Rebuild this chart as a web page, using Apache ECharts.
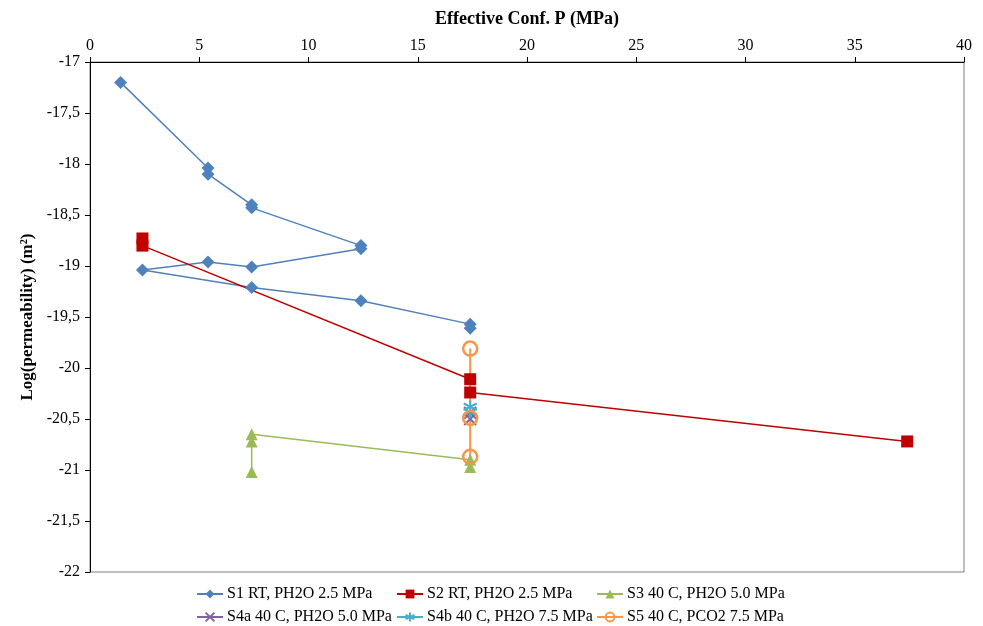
<!DOCTYPE html>
<html>
<head>
<meta charset="utf-8">
<script src="https://cdn.jsdelivr.net/npm/echarts@6/dist/echarts.min.js"></script>
<style>
  html, body { margin: 0; padding: 0; background: #fff; }
  #chart { width: 983px; height: 626px; }
</style>
</head>
<body>
<div id="chart"></div>
<script>
// series names
const seriesNames = [
  'S1 RT, PH2O 2.5 MPa',
  'S2 RT, PH2O 2.5 MPa',
  'S3 40 C, PH2O 5.0 MPa',
  'S4a 40 C, PH2O 5.0 MPa',
  'S4b 40 C, PH2O 7.5 MPa',
  'S5 40 C, PCO2 7.5 MPa',
]

// [effective conf. P (MPa), log(permeability)]
const s1Data = [
  [1.4, -17.2], [5.4, -18.04], [5.4, -18.1], [7.4, -18.4], [7.4, -18.43],
  [12.4, -18.8], [12.4, -18.83], [7.4, -19.01], [5.4, -18.96], [2.4, -19.04],
  [7.4, -19.21], [12.4, -19.34], [17.4, -19.57], [17.4, -19.61],
]
const s2Data = [[2.4, -18.73], [2.4, -18.8], [17.4, -20.11], [17.4, -20.24], [37.4, -20.72]]
const s3Data = [[7.4, -21.02], [7.4, -20.72], [7.4, -20.65], [17.4, -20.9], [17.4, -20.97]]
const s4aData = [[17.4, -20.44], [17.4, -20.5]]
const s4bData = [[17.4, -20.38], [17.4, -20.43]]
const s5Data = [[17.4, -19.81], [17.4, -20.49], [17.4, -20.87]]

const xTicks = { min: 0, max: 40, interval: 5 }
const yTicks = { min: -22, max: -17, interval: 0.5 }

const colorList = ['#4F81BD', '#C00000', '#9BBB59', '#8064A2', '#4BACC6', '#F79646']
const fontFamily = '"Liberation Serif", "Times New Roman", serif'

const myChart = echarts.init(document.getElementById('chart'))

function lineSeries(idx, data, symbol, symbolSize, extra = {}) {
  return {
    name: seriesNames[idx],
    type: 'line',
    data,
    symbol,
    symbolSize,
    color: colorList[idx],
    lineStyle: { color: colorList[idx], width: 1.5 },
    itemStyle: { color: colorList[idx] },
    animation: false,
    ...extra,
  }
}

// one legend per item so the columns line up like the original
const legendPos = [
  [196, 586], [396, 586], [596, 586],
  [196, 609], [396, 609], [596, 609],
]
const legends = seriesNames.map((name, i) => ({
  data: [name],
  left: legendPos[i][0],
  top: legendPos[i][1],
  padding: 0,
  itemWidth: 26,
  itemHeight: 11,
  itemGap: 4,
  textStyle: { fontFamily, fontSize: 16, color: '#000', padding: [0, 0, 0, -1] },
}))

const xMark = 'path://M-5,-5L5,5M-5,5L5,-5'
const starMark = 'path://M0,-6L0,6M-5.2,-3L5.2,3M-5.2,3L5.2,-3'

const option = {
  backgroundColor: '#fff',
  textStyle: { fontFamily },
  legend: legends,
  grid: {
    left: 90,
    right: 19,
    top: 62,
    bottom: 54,
    outerBoundsMode: 'none',
    show: true,
    borderColor: '#808080',
    borderWidth: 1,
  },
  xAxis: {
    type: 'value',
    position: 'top',
    ...xTicks,
    name: 'Effective Conf. P (MPa)',
    nameLocation: 'middle',
    nameGap: 34,
    nameTextStyle: { fontFamily, fontSize: 18, fontWeight: 'bold', color: '#000' },
    axisLine: { show: true, lineStyle: { color: '#000', width: 1 } },
    axisTick: { show: true, length: 5, lineStyle: { color: '#000' } },
    axisLabel: { fontFamily, fontSize: 16, color: '#000', margin: 8 },
    splitLine: { show: false },
  },
  yAxis: {
    type: 'value',
    ...yTicks,
    name: 'Log(permeability) (m²)',
    nameLocation: 'middle',
    nameGap: 50,
    nameTextStyle: { fontFamily, fontSize: 17, fontWeight: 'bold', color: '#000' },
    axisLine: { show: true, lineStyle: { color: '#000', width: 1 } },
    axisTick: { show: true, length: 5, lineStyle: { color: '#000' } },
    axisLabel: {
      fontFamily,
      fontSize: 16,
      color: '#000',
      margin: 10,
      formatter: (v) => String(v).replace('.', ','),
    },
    splitLine: { show: false },
  },
  series: [
    lineSeries(0, s1Data, 'diamond', 13),
    lineSeries(1, s2Data, 'rect', 12),
    lineSeries(2, s3Data, 'triangle', 12),
    lineSeries(3, s4aData, xMark, 12, {
      itemStyle: { color: 'none', borderColor: colorList[3], borderWidth: 2 },
    }),
    lineSeries(4, s4bData, starMark, 13, {
      itemStyle: { color: 'none', borderColor: colorList[4], borderWidth: 2 },
    }),
    lineSeries(5, s5Data, 'circle', 14, {
      itemStyle: { color: 'none', borderColor: colorList[5], borderWidth: 2.5 },
      lineStyle: { color: colorList[5], width: 2 },
    }),
  ],
}

myChart.setOption(option, true)
</script>
</body>
</html>
